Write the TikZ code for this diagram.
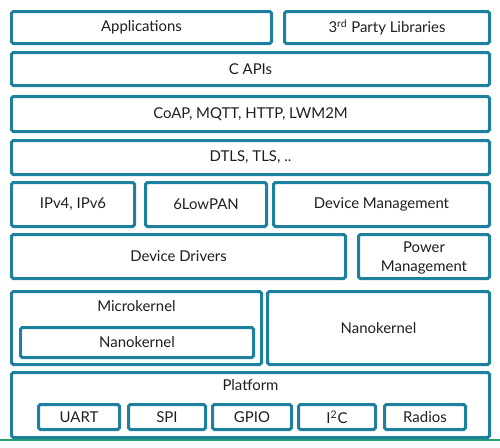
\documentclass[tikz,border=0pt]{standalone}
\usepackage{fontspec}
\setmainfont{Lato}
\definecolor{layerblue}{RGB}{28,128,158}
\definecolor{basegreen}{RGB}{34,160,107}
\definecolor{inkgray}{RGB}{30,30,30}
\tikzset{
    layer/.style={draw=layerblue, line width=0.06cm, rounded corners=1pt},
    lbl/.style={text=inkgray, font=\fontsize{8.5}{10}\selectfont, align=center, inner sep=0pt}
}
\begin{document}
\begin{tikzpicture}[x=0.02cm, y=-0.02cm]
    \useasboundingbox (0, 0) rectangle (500, 447);
    \draw[basegreen, line width=0.04cm] (0, 440) -- (500, 440);
    % top layers
    \draw[layer] (11.5, 11.5) rectangle (271.5, 43.5) node[midway, lbl] (apps) {Applications};
    \draw[layer] (284.5, 11.5) rectangle (489.5, 43.5) node[midway, lbl] (libs) {3\textsuperscript{rd} Party Libraries};
    \draw[layer] (11.5, 52.5) rectangle (489.5, 85.5) node[midway, lbl] (capi) {C APIs};
    \draw[layer] (11.5, 96.5) rectangle (489.5, 131.5) node[midway, lbl] (coap) {CoAP, MQTT, HTTP, LWM2M};
    \draw[layer] (11.5, 140.5) rectangle (489.5, 174.5) node[midway, lbl] (dtls) {DTLS, TLS, ..};
    % networking
    \draw[layer] (11.5, 182.5) rectangle (134.5, 226.5) node[midway, lbl] (ip) {IPv4, IPv6};
    \draw[layer] (145.5, 182.5) rectangle (266.5, 226.5) node[midway, lbl] (lowpan) {6LowPAN};
    \draw[layer] (273.5, 182.5) rectangle (489.5, 226.5) node[midway, lbl] (devmgmt) {Device Management};
    % drivers
    \draw[layer] (11.5, 234.5) rectangle (345.5, 278.5) node[midway, lbl] (drivers) {Device Drivers};
    \draw[layer] (358.5, 234.5) rectangle (489.5, 278.5) node[midway, lbl, yshift=-1pt] (power) {Power\\[1pt]Management};
    % kernels
    \draw[layer] (11.5, 291.5) rectangle (261.5, 364.5);
    \node[lbl] (micro) at (136.5, 306) {Microkernel};
    \draw[layer] (20.5, 327.5) rectangle (253.5, 357.5) node[midway, lbl] (nanoin) {Nanokernel};
    \draw[layer] (267.5, 291.5) rectangle (489.5, 364.5) node[midway, lbl] (nano) {Nanokernel};
    % platform
    \draw[layer] (11.5, 372.5) rectangle (489.5, 437.5);
    \node[lbl] (platform) at (250.5, 385) {Platform};
    \draw[layer] (38.5, 404.5) rectangle (119.5, 429.5) node[midway, lbl] (uart) {UART};
    \draw[layer] (128.5, 404.5) rectangle (205.5, 429.5) node[midway, lbl] (spi) {SPI};
    \draw[layer] (212.5, 404.5) rectangle (291.5, 429.5) node[midway, lbl] (gpio) {GPIO};
    \draw[layer] (298.5, 404.5) rectangle (375.5, 429.5) node[midway, lbl] (iic) {I\textsuperscript{2}C};
    \draw[layer] (384.5, 404.5) rectangle (465.5, 429.5) node[midway, lbl] (radios) {Radios};
\end{tikzpicture}
\end{document}
